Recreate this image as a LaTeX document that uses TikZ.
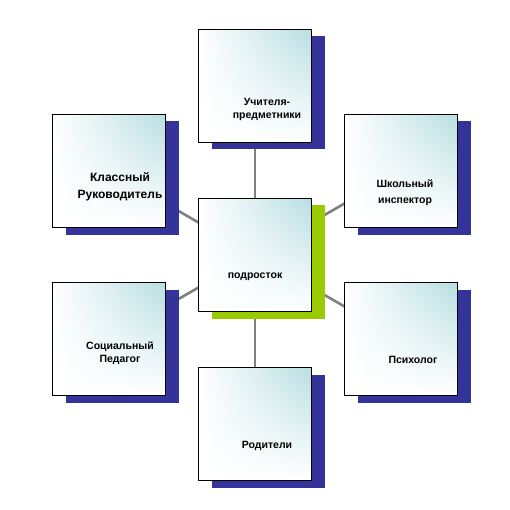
\documentclass[tikz,border=0pt]{standalone}
\usepackage{fontspec}
\setmainfont{Liberation Sans}
\usetikzlibrary{calc,shadows,shadings,backgrounds}
\definecolor{indigo}{HTML}{333399}
\definecolor{lime}{HTML}{99CC00}
\definecolor{aqua}{HTML}{B8DEE2}
\definecolor{wire}{HTML}{808080}
\tikzset{
  card/.style={draw=black,line width=0.9pt,minimum size=113pt,inner sep=0pt,shade,
    lower left=white,upper left=white,lower right=white,upper right=aqua,
    drop shadow={shadow xshift=13pt,shadow yshift=-7pt,fill=#1,opacity=1}},
  card/.default=indigo,
  txt/.style={font=\bfseries\fontsize{10.5}{13}\selectfont,align=center,inner sep=0pt},
  link/.style={wire,line width=2.6pt},
}

\begin{document}
\begin{tikzpicture}[x=1pt,y=-1pt]
\useasboundingbox (0,0) rectangle (510,510);
\node[card=lime] (c) at (255,255) {};
\node[card] (t)  at (255,86)  {};
\node[card] (lt) at (109,171) {};
\node[card] (rt) at (401,171) {};
\node[card] (lb) at (109,339) {};
\node[card] (rb) at (401,339) {};
\node[card] (b)  at (255,424) {};
% labels sit low in each card
\node[txt] (c-l)  at (255,277) {подросток};
\node[txt] (t-l)  at (267,109) {Учителя-\\предметники};
\node[txt,font=\bfseries\fontsize{12}{17}\selectfont] (lt-l) at (120,187) {Классный\\Руководитель};
\node[txt,font=\bfseries\fontsize{10.5}{16}\selectfont] (rt-l) at (405,193) {Школьный\\инспектор};
\node[txt] (lb-l) at (120,353) {Социальный\\Педагог};
\node[txt] (rb-l) at (413,360) {Психолог};
\node[txt] (b-l)  at (267,446) {Родители};
\begin{pgfonlayer}{background}
\draw[link] (c.center) -- (t.center); \draw[link] (c.center) -- (b.center);
\draw[link] (c.center) -- (lt.center); \draw[link] (c.center) -- (rt.center);
\draw[link] (c.center) -- (lb.center); \draw[link] (c.center) -- (rb.center);
\end{pgfonlayer}
\end{tikzpicture}
\end{document}
